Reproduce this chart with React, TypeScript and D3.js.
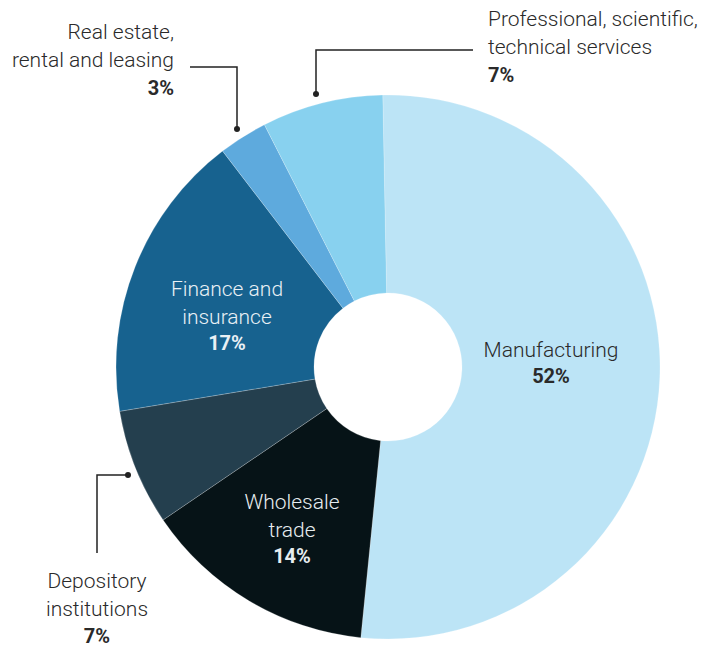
import React from "react";
import * as d3 from "d3";

const categories = ["Manufacturing", "Wholesale trade", "Depository institutions", "Finance and insurance", "Real estate, rental and leasing", "Professional, scientific, technical services"];
const values = [51.9, 13.9, 6.9, 17.2, 2.9, 7.2];
const percentLabels = ["52%", "14%", "7%", "17%", "3%", "7%"];
const colors = ["#bce4f6", "#061317", "#243f4e", "#17628f", "#5eaadd", "#88d1ef"];

const W = 704;
const H = 648;
const CX = 388;
const CY = 367;
const R = 272;
const R0 = 74;
const FONT = "Roboto, 'Liberation Sans', Arial, sans-serif";

export default function App() {
  const pie = d3.pie<number>().sort(null).value((d) => d)
    .startAngle(-0.0192).endAngle(-0.0192 + 2 * Math.PI);
  const arcs = pie(values);
  const arcGen = d3.arc<d3.PieArcDatum<number>>().innerRadius(R0).outerRadius(R);
  const lineH = 28;
  const fs = 21;

  const inside: { i: number; lines: string[]; x: number; y: number; fill: string }[] = [
    { i: 0, lines: ["Manufacturing"], x: 551, y: 357, fill: "#2a2a2a" },
    { i: 1, lines: ["Wholesale", "trade"], x: 292, y: 509, fill: "#e6edf0" },
    { i: 3, lines: ["Finance and", "insurance"], x: 227, y: 296, fill: "#e9f0f5" },
  ];

  const dark = "#2a2a2a";
  const lineColor = "#222";

  return (
    <svg width={W} height={H} style={{ position: "absolute", left: 0, top: 0, background: "#fff" }} fontFamily={FONT}>
      <g transform={`translate(${CX},${CY})`}>
        {arcs.map((a, i) => (
          <path key={categories[i]} d={arcGen(a) || ""} fill={colors[i]} stroke="#ffffff" strokeOpacity={0.35} strokeWidth={0.6} />
        ))}
      </g>
      {inside.map((l) => (
        <text key={l.i} textAnchor="middle" fill={l.fill} fontSize={fs} fontWeight={300}>
          {l.lines.map((t, k) => (
            <tspan key={k} x={l.x} y={l.y + k * lineH}>{t}</tspan>
          ))}
          <tspan x={l.x} y={l.y + l.lines.length * lineH - 2} fontWeight={700} fontSize={20}>{percentLabels[l.i]}</tspan>
        </text>
      ))}

      {/* Real estate */}
      <polyline points="190,67 237,67 237,129" fill="none" stroke={lineColor} strokeWidth={1.5} />
      <circle cx={237} cy={129} r={3} fill={lineColor} />
      <text textAnchor="end" fill={dark} fontSize={fs} fontWeight={300}>
        <tspan x={174} y={39}>Real estate,</tspan>
        <tspan x={174} y={67}>rental and leasing</tspan>
        <tspan x={174} y={95} fontWeight={700} fontSize={20}>{percentLabels[4]}</tspan>
      </text>

      {/* Professional */}
      <polyline points="473,50 316,50 316,94" fill="none" stroke={lineColor} strokeWidth={1.5} />
      <circle cx={316} cy={94} r={3} fill={lineColor} />
      <text textAnchor="start" fill={dark} fontSize={fs} fontWeight={300}>
        <tspan x={488} y={26}>Professional, scientific,</tspan>
        <tspan x={488} y={54}>technical services</tspan>
        <tspan x={488} y={82} fontWeight={700} fontSize={20}>{percentLabels[5]}</tspan>
      </text>

      {/* Depository */}
      <polyline points="128,475 97,475 97,553" fill="none" stroke={lineColor} strokeWidth={1.5} />
      <circle cx={128} cy={475} r={3} fill={lineColor} />
      <text textAnchor="middle" fill={dark} fontSize={fs} fontWeight={300}>
        <tspan x={97} y={588}>Depository</tspan>
        <tspan x={97} y={616}>institutions</tspan>
        <tspan x={97} y={643} fontWeight={700} fontSize={20}>{percentLabels[2]}</tspan>
      </text>
    </svg>
  );
}
